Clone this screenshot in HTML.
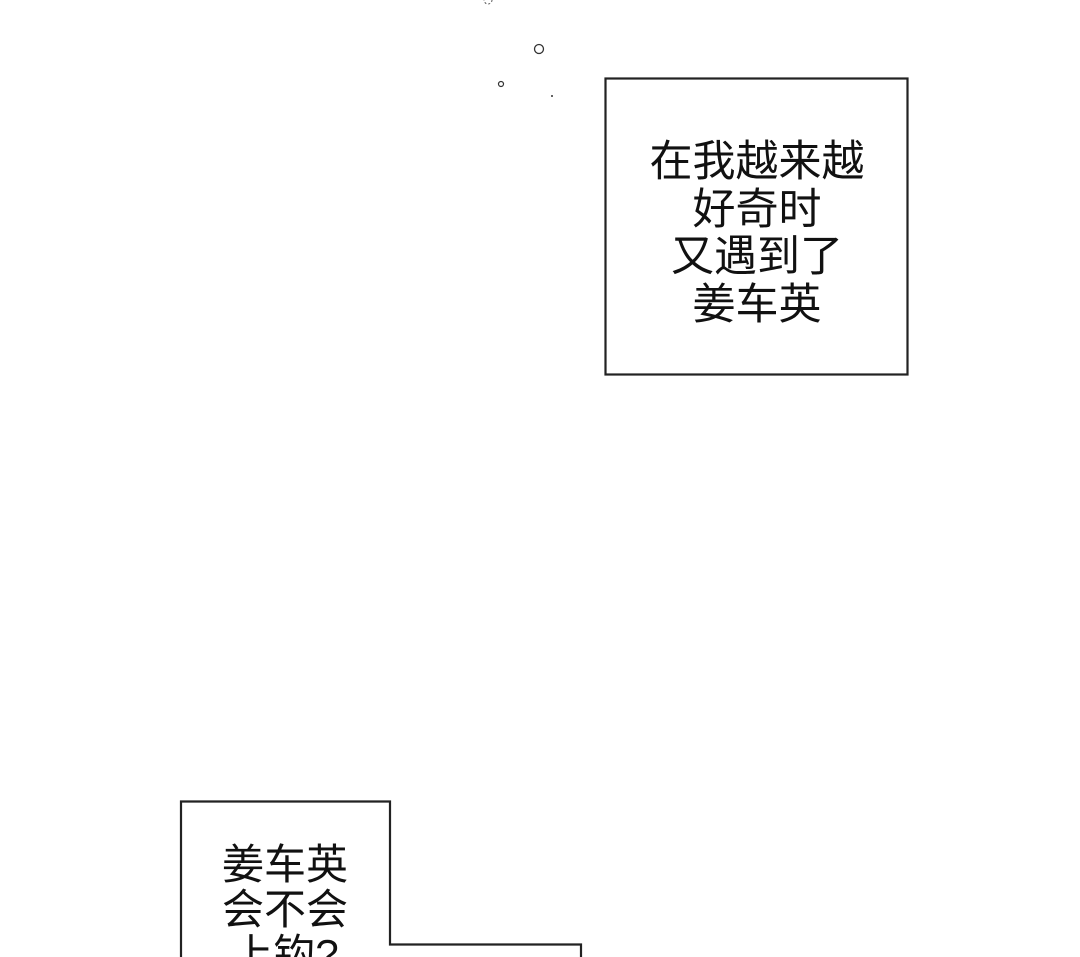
<!DOCTYPE html>
<html><head><meta charset="utf-8"><style>
html,body{margin:0;padding:0;background:#fff;width:1080px;height:957px;overflow:hidden;position:relative}
.t{position:absolute;font-family:"Liberation Sans","Noto Sans CJK SC",sans-serif;color:#111;text-align:center}
</style></head><body>
<svg width="1080" height="957" style="position:absolute;left:0;top:0">
<rect x="605.5" y="78.5" width="302" height="296" fill="none" stroke="#222" stroke-width="2.2"/>
<polyline points="181,957 181,801.5 390,801.5 390,944.5 581,944.5 581,957" fill="none" stroke="#222" stroke-width="2.2"/>
<circle cx="539" cy="49" r="4.5" fill="none" stroke="#333" stroke-width="1.3"/>
<circle cx="501" cy="84" r="2.5" fill="none" stroke="#333" stroke-width="1.2"/>
<circle cx="552" cy="96" r="1" fill="#333"/>
<circle cx="488" cy="0" r="4" fill="none" stroke="#555" stroke-width="1" stroke-dasharray="2 2"/>
</svg>
<div class="t" style="left:606px;width:302px;top:139px;line-height:47.5px;font-size:43px">在我越来越<br>好奇时<br>又遇到了<br>姜车英</div>
<div class="t" style="left:180px;width:210px;top:842px;line-height:45px;font-size:42px">姜车英<br>会不会<br>上钩?</div>
</body></html>
